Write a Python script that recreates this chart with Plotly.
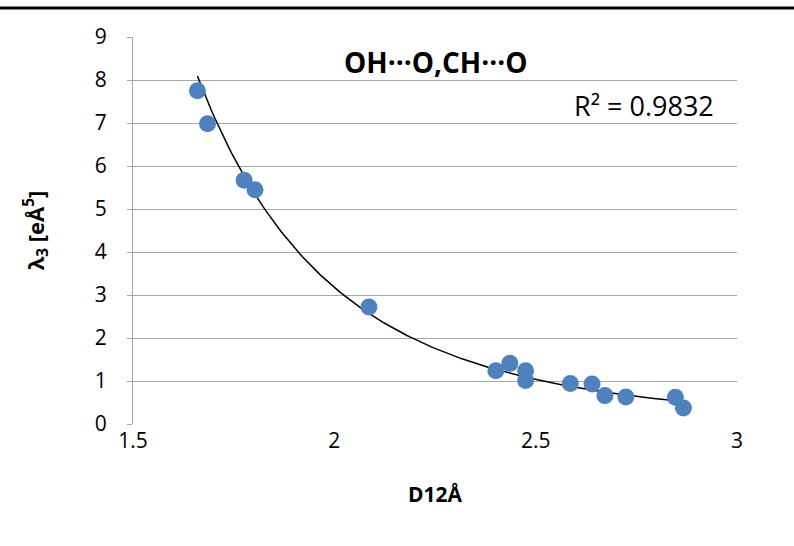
import numpy as np
import plotly.graph_objects as go

d12 = [1.660, 1.685, 1.776, 1.803, 2.086, 2.401, 2.436, 2.475, 2.475, 2.586, 2.640, 2.672, 2.724, 2.847, 2.867]
lam3 = [7.75, 6.98, 5.67, 5.45, 2.72, 1.24, 1.41, 1.24, 1.01, 0.94, 0.93, 0.66, 0.63, 0.62, 0.37]
x_ticks = [1.5, 2, 2.5, 3]
y_ticks = list(range(0, 10))

# power trendline y = a * x^b fitted from the data
b, lna = np.polyfit(np.log(d12), np.log(lam3), 1)
xt = np.linspace(min(d12), max(d12), 200)
yt = np.exp(lna) * xt ** b

FONT = "Open Sans"
grid = "#a6a6a6"

fig = go.Figure()
fig.add_trace(go.Scatter(x=xt, y=yt, mode="lines", line=dict(color="black", width=1.5),
                         hoverinfo="skip", showlegend=False))
fig.add_trace(go.Scatter(x=d12, y=lam3, mode="markers",
                         marker=dict(color="#4f81bd", size=17, line=dict(width=0)),
                         showlegend=False))

fig.update_layout(
    width=794, height=546,
    margin=dict(l=133, r=57, t=37, b=122),
    plot_bgcolor="white", paper_bgcolor="white",
    font=dict(family=FONT, color="black", size=21),
    xaxis=dict(range=[1.5, 3], tickvals=x_ticks, ticktext=[str(v) for v in x_ticks],
               showgrid=False, zeroline=False, showline=False, ticks="",
               ticklabelstandoff=2,
               title=dict(text="<b>D12Å</b>", font=dict(size=21), standoff=34)),
    yaxis=dict(range=[0, 9], tickvals=y_ticks, showgrid=True, gridcolor=grid, gridwidth=1,
               zeroline=False, showline=True, linecolor=grid, linewidth=1,
               ticks="outside", ticklen=5, tickcolor=grid, ticklabelstandoff=16,
               title=dict(text="<b>λ<sub>3</sub> [eÅ<sup>5</sup>]</b>", font=dict(size=22), standoff=44)),
    annotations=[
        dict(text="<b>OH···O,CH···O</b>", x=0.5, y=0.935, xref="paper", yref="paper",
             showarrow=False, font=dict(size=28), xanchor="center", yanchor="middle"),
        dict(text="R² = 0.9832", x=0.965, y=0.822, xref="paper", yref="paper",
             showarrow=False, font=dict(size=27), xanchor="right", yanchor="middle"),
    ],
    shapes=[
        dict(type="line", xref="paper", yref="paper", x0=-0.3, x1=1.2, y0=1.075, y1=1.075,
             line=dict(color="black", width=3)),
    ],
)

fig.write_html("out.html")
